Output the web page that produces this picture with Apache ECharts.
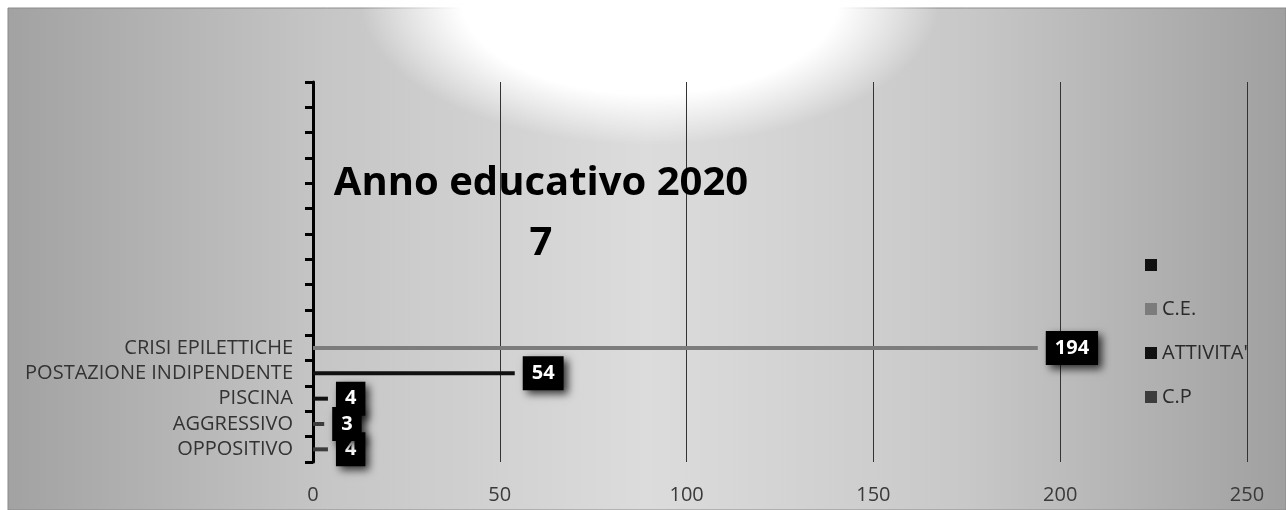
<!DOCTYPE html>
<html>
<head>
<meta charset="utf-8">
<style>
  html, body { margin: 0; padding: 0; background: #ffffff; }
  #chart { width: 1286px; height: 510px; }
</style>
<script src="https://cdn.jsdelivr.net/npm/echarts@6/dist/echarts.min.js"></script>
</head>
<body>
<div id="chart"></div>
<script>
// Categories listed bottom to top; the upper slots of the axis are empty.
const categories = [
  'OPPOSITIVO', 'AGGRESSIVO', 'PISCINA', 'POSTAZIONE INDIPENDENTE', 'CRISI EPILETTICHE',
  '', '', '', '', '', '', '', '', '', ''
];
const seriesNames = [' ', 'C.E.', "ATTIVITA'", 'C.P'];
const blankValues    = [null, null, null, null, null, null, null, null, null, null, null, null, null, null, null];
const ceValues       = [null, null, null, null, 194, null, null, null, null, null, null, null, null, null, null];
const attivitaValues = [null, null, 4, 54, null, null, null, null, null, null, null, null, null, null, null];
const cpValues       = [4, 3, null, null, null, null, null, null, null, null, null, null, null, null, null];
const xTicks = [0, 50, 100, 150, 200, 250];

const seriesValues = [blankValues, ceValues, attivitaValues, cpValues];
const seriesColors = ['#111111', '#7c7c7c', '#111111', '#3c3c3c'];

const FONT = '"Open Sans", "DejaVu Sans", sans-serif';

const valueLabel = {
  show: true,
  position: 'right',
  distance: 8,
  formatter: p => String(p.value),
  backgroundColor: '#000000',
  color: '#ffffff',
  fontFamily: FONT,
  fontWeight: 'bold',
  fontSize: 20,
  lineHeight: 20,
  padding: [7, 9, 7, 9],
  shadowColor: 'rgba(0,0,0,0.75)',
  shadowBlur: 8,
  shadowOffsetX: 4,
  shadowOffsetY: 4
};

const chart = echarts.init(document.getElementById('chart'), null, { renderer: 'canvas' });

chart.setOption({
  animation: false,
  backgroundColor: 'transparent',
  graphic: [
    {
      type: 'rect', z: -10, silent: true,
      shape: { x: 8, y: 8, width: 1278, height: 502 },
      style: {
        fill: new echarts.graphic.LinearGradient(0, 0, 1, 0, [
          { offset: 0, color: '#a2a2a2' },
          { offset: 0.25, color: '#c6c6c6' },
          { offset: 0.5, color: '#dcdcdc' },
          { offset: 0.75, color: '#c8c8c8' },
          { offset: 1, color: '#a0a0a0' }
        ]),
        stroke: '#8a8a8a', lineWidth: 1
      }
    },
    {
      type: 'circle', z: -9, silent: true,
      shape: { cx: 650, cy: 0, r: 290 },
      scaleY: 0.5, originX: 650, originY: 0,
      style: {
        fill: new echarts.graphic.RadialGradient(0.5, 0.5, 0.5, [
          { offset: 0, color: 'rgba(255,255,255,1)' },
          { offset: 0.65, color: 'rgba(255,255,255,1)' },
          { offset: 1, color: 'rgba(255,255,255,0)' }
        ])
      }
    }
  ],
  title: {
    text: 'Anno educativo 2020\n7',
    left: 536,
    top: 149,
    textAlign: 'center',
    textStyle: {
      fontFamily: FONT,
      fontWeight: 'bold',
      fontSize: 40,
      lineHeight: 60,
      color: '#000000'
    }
  },
  legend: {
    data: seriesNames,
    orient: 'vertical',
    left: 1140,
    top: 250,
    icon: 'rect',
    itemWidth: 12,
    itemHeight: 12,
    itemGap: 24,
    textStyle: { fontFamily: FONT, fontSize: 20, lineHeight: 20, color: '#2a2a2a' }
  },
  grid: { left: 313, right: 39, top: 82, bottom: 48, containLabel: false },
  xAxis: {
    type: 'value',
    min: 0,
    max: 250,
    interval: 50,
    axisLine: { show: false },
    axisTick: { show: false },
    axisLabel: {
      margin: 23,
      fontFamily: FONT,
      fontSize: 20,
      color: '#3a3a3a',
      formatter: v => (xTicks.indexOf(v) >= 0 ? String(v) : '')
    },
    splitLine: { show: true, lineStyle: { color: '#333333', width: 1 } }
  },
  yAxis: {
    type: 'category',
    data: categories,
    boundaryGap: true,
    axisLine: { show: true, lineStyle: { color: '#000000', width: 3 } },
    axisTick: { show: true, length: 8, lineStyle: { color: '#000000', width: 3 } },
    axisLabel: {
      margin: 20,
      interval: 0,
      fontFamily: FONT,
      fontSize: 20,
      color: '#333333'
    },
    splitLine: { show: false }
  },
  series: seriesNames.map((name, i) => ({
    name: name,
    type: 'bar',
    stack: 'total',
    barWidth: 4,
    itemStyle: { color: seriesColors[i] },
    label: valueLabel,
    data: seriesValues[i]
  }))
});
</script>
</body>
</html>
